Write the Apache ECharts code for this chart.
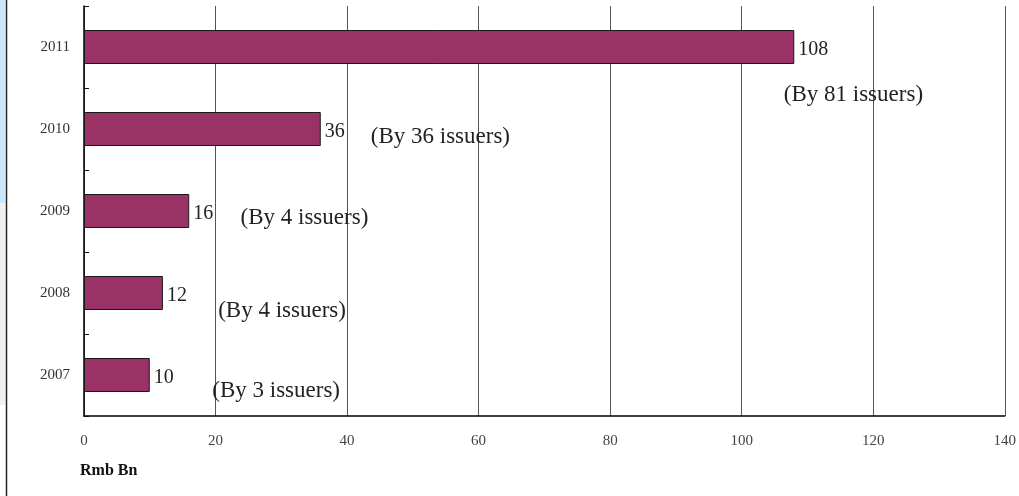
<!DOCTYPE html>
<html>
<head>
<meta charset="utf-8">
<script src="https://cdn.jsdelivr.net/npm/echarts@6/dist/echarts.min.js"></script>
<style>html,body{margin:0;padding:0;background:#fff;}#c{width:1019px;height:496px;}</style>
</head>
<body>
<div id="c"></div>
<script>
var categories = ['2007', '2008', '2009', '2010', '2011'];
var values = [10, 12, 16, 36, 108];
var xTicks = [0, 20, 40, 60, 80, 100, 120, 140];
var annotationTexts = ['(By 3 issuers)', '(By 4 issuers)', '(By 4 issuers)', '(By 36 issuers)', '(By 81 issuers)'];
var annotationX = [19.5, 20.4, 23.8, 43.6, 106.4];
var annotationY = [0.30, 1.28, 2.41, 3.40, 3.91];

var serif = '"Liberation Serif", "DejaVu Serif", serif';
var chart = echarts.init(document.getElementById('c'), null, {renderer: 'canvas'});
var annData = annotationTexts.map(function (t, i) { return [annotationX[i], annotationY[i], t]; });

chart.setOption({
  animation: false,
  backgroundColor: '#fff',
  grid: {left: 84, right: 14, top: 6, bottom: 80, containLabel: false},
  graphic: [
    {type: 'rect', shape: {x: 0, y: 0, width: 5, height: 203}, style: {fill: '#cce8ff'}, silent: true},
    {type: 'rect', shape: {x: 0, y: 203, width: 5, height: 202}, style: {fill: '#f0f0f0'}, silent: true},
    {type: 'line', shape: {x1: 6.5, y1: 0, x2: 6.5, y2: 496}, style: {stroke: '#222', lineWidth: 1.5}, silent: true},
    {type: 'text', left: 80, top: 463, style: {text: 'Rmb Bn', font: 'bold 16px ' + serif, fill: '#111'}}
  ],
  xAxis: [{
    type: 'value', min: 0, max: 140, interval: 20,
    axisLine: {show: true, lineStyle: {color: '#000', width: 1.5}},
    axisTick: {show: false},
    axisLabel: {
      color: '#444', fontFamily: serif, fontSize: 15, margin: 18,
      formatter: function (v) { return xTicks.indexOf(v) >= 0 ? String(v) : ''; }
    },
    splitLine: {show: true, lineStyle: {color: '#555', width: 1}}
  }],
  yAxis: [{
    type: 'category', data: categories,
    axisLine: {show: true, lineStyle: {color: '#000', width: 1.5}},
    axisTick: {show: true, inside: true, length: 5, lineStyle: {color: '#111'}},
    axisLabel: {color: '#333', fontFamily: serif, fontSize: 15, margin: 14},
    splitLine: {show: false}
  }, {
    type: 'value', min: 0, max: 5, show: false
  }],
  series: [{
    type: 'bar', data: values, barWidth: 34, yAxisIndex: 0,
    itemStyle: {color: '#993366', borderColor: '#1a1a1a', borderWidth: 1},
    label: {show: true, position: 'right', distance: 4, offset: [0, 3], color: '#222', fontFamily: serif, fontSize: 20}
  }, {
    type: 'scatter', yAxisIndex: 1, data: annData, symbolSize: 0,
    itemStyle: {color: 'transparent', opacity: 1},
    label: {
      show: true, position: 'right', distance: 0, color: '#222', fontFamily: serif, fontSize: 23,
      formatter: function (p) { return p.data[2]; }
    },
    emphasis: {disabled: true},
    silent: true
  }]
});
</script>
</body>
</html>
